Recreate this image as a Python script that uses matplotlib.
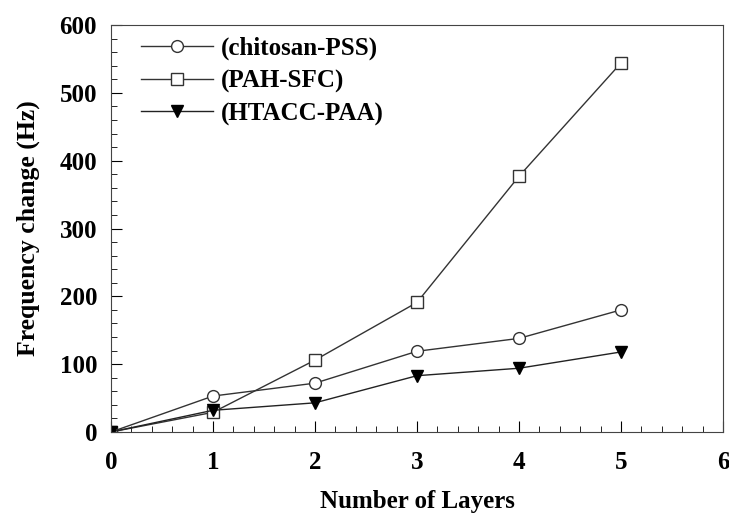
import numpy as np
import matplotlib
matplotlib.use("Agg")
import matplotlib.pyplot as plt
from matplotlib.ticker import MultipleLocator

plt.rcParams['font.family'] = ['Liberation Serif', 'DejaVu Serif']
plt.rcParams['font.weight'] = 'bold'

layers = [0, 1, 2, 3, 4, 5]
chitosan_pss = [0, 53, 72, 119, 138, 180]
pah_sfc = [0, 29, 106, 191, 377, 544]
htacc_paa = [0, 32, 43, 83, 94, 118]

fig = plt.figure(figsize=(7.29, 5.15), dpi=100)
ax = fig.add_axes([111/729, 83/515, 612/729, 407/515])

ax.plot(layers, chitosan_pss, color='#333333', lw=1, marker='o', ms=8.5,
        mfc='white', mec='#333333', mew=1, label='(chitosan-PSS)')
ax.plot(layers, pah_sfc, color='#333333', lw=1, marker='s', ms=8.5,
        mfc='white', mec='#333333', mew=1, label='(PAH-SFC)')
ax.plot(layers, htacc_paa, color='#222222', lw=1, marker='v', ms=9,
        mfc='black', mec='black', label='(HTACC-PAA)')

ax.set_xlim(0, 6)
ax.set_ylim(0, 600)
ax.xaxis.set_major_locator(MultipleLocator(1))
ax.xaxis.set_minor_locator(MultipleLocator(0.2))
ax.yaxis.set_major_locator(MultipleLocator(100))
ax.yaxis.set_minor_locator(MultipleLocator(20))
ax.tick_params(which='both', direction='in', labelsize=18)
ax.tick_params(axis='x', pad=14)
ax.tick_params(axis='y', pad=10)
ax.tick_params(which='major', length=8)
ax.tick_params(which='minor', length=4)
for s in ax.spines.values():
    s.set_color('#444444')

ax.set_xlabel('Number of Layers', fontsize=18, fontweight='bold', labelpad=11)
ax.set_ylabel('Frequency change (Hz)', fontsize=18.5, fontweight='bold', labelpad=14)

leg = ax.legend(loc='upper left', frameon=False, fontsize=18, handlelength=2.9,
                handletextpad=0.3, labelspacing=0.38, borderaxespad=0.3,
                bbox_to_anchor=(0.02, 1.015))

fig.savefig('out.png', dpi=100)
